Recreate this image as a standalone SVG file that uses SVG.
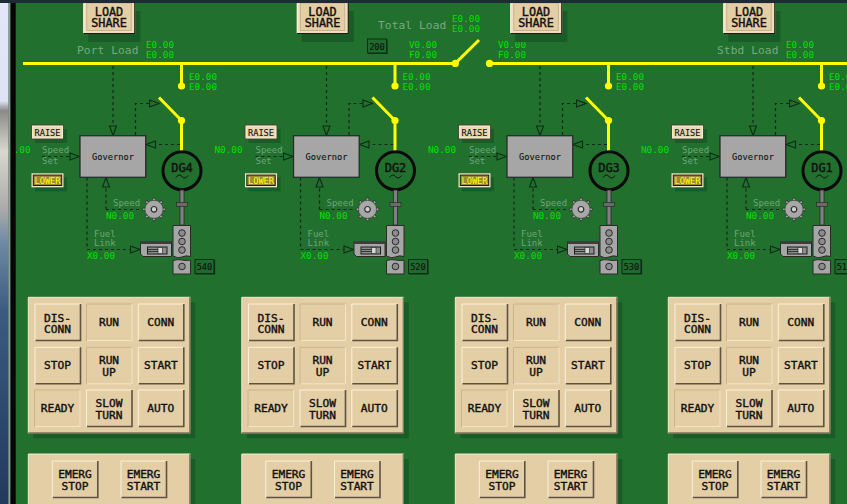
<svg xmlns="http://www.w3.org/2000/svg" width="847" height="504" viewBox="0 0 847 504">
<style>
text{font-family:"DejaVu Sans Mono","Liberation Mono",monospace}
.v{font-size:9.3px;fill:#00e000}
.l{font-size:9px;fill:#6fa57c}
.h{font-size:11.2px;fill:#7aa886;letter-spacing:.1px}
.b{font-size:11.2px;fill:#111;stroke:#111;stroke-width:.4;text-anchor:middle}
.ls{font-size:11.8px}
.s{font-size:8.7px;fill:#111;stroke:#111;stroke-width:.1;text-anchor:middle}
.d{font-size:12px;fill:#111;stroke:#111;stroke-width:.4;text-anchor:middle}
.sig{fill:none;stroke:#0f2a17;stroke-width:1.2;stroke-dasharray:3 3}
.sigf{marker-end:url(#tri)}
.bus{fill:none;stroke:#ff0;stroke-width:3}
.dot{fill:#ff0}
.pan{fill:#e4cea6}
.sh{fill:#1a5c27}
.mt{fill:#a6a6a6;stroke:#2a2a2a;stroke-width:1}
.hole{fill:#8c8c8c;stroke:#2a2a2a;stroke-width:1}
</style>
<defs>
<marker id="tri" markerUnits="userSpaceOnUse" markerWidth="12" markerHeight="10" refX="0.5" refY="4.5" orient="auto">
<path d="M1 1L10.5 4.5L1 8Z" fill="none" stroke="#0f2a17" stroke-width="1.1"/>
</marker>
<linearGradient id="strip" x1="0" y1="0" x2="0" y2="1">
<stop offset="0" stop-color="#e4e7fa"/><stop offset=".2" stop-color="#dfe2f5"/><stop offset=".22" stop-color="#8a8a88"/><stop offset=".3" stop-color="#d8d8d0"/><stop offset=".42" stop-color="#a8a8a8"/><stop offset=".48" stop-color="#6f8aa5"/><stop offset=".62" stop-color="#3a5a80"/><stop offset="1" stop-color="#223a5c"/>
</linearGradient>
<g id="btn">
<rect width="46" height="37" class="pan"/>
<path d="M0 37V0H46" fill="none" stroke="#fbf1d8" stroke-width="1"/>
<path d="M0.5 36.5H45.5V0" fill="none" stroke="#5e5240" stroke-width="1.6"/>
</g>
<g id="btnin">
<rect width="46" height="37" class="pan"/>
<path d="M0 37V0H46" fill="none" stroke="#c9b48c" stroke-width="1"/>
<path d="M0.5 36.5H45.5V0" fill="none" stroke="#f3e4c3" stroke-width="1"/>
</g>
<g id="conn">
<path class="sig sigf" d="M113 66V125.5"/>
<path class="sig sigf" d="M135.5 135V103.5H149"/>
<path class="sig sigf" d="M180 144.5H156"/>
<path class="sig sigf" d="M42 156.5H69.5"/>
<path class="sig sigf" d="M106 209.5V187.5"/>
<path class="sig" d="M106 209.5H143"/>
<path class="sig sigf" d="M87 177.5V249.5H130"/>
<path class="bus" d="M181.5 63V86"/>
<path class="bus" d="M159 97.5L181.5 120.5V151"/>
<circle class="dot" cx="181.5" cy="86" r="3.6"/>
<circle class="dot" cx="181.5" cy="120.5" r="3.6"/>
</g>
<g id="gear">
<g fill="#a6a6a6" stroke="#2a2a2a" stroke-width=".8">
<circle cx="0" cy="-10" r="1.5"/><circle cx="7.1" cy="-7.1" r="1.5"/><circle cx="10" cy="0" r="1.5"/><circle cx="7.1" cy="7.1" r="1.5"/><circle cx="0" cy="10" r="1.5"/><circle cx="-7.1" cy="7.1" r="1.5"/><circle cx="-10" cy="0" r="1.5"/><circle cx="-7.1" cy="-7.1" r="1.5"/>
</g>
<circle r="9" fill="#a8a8a8" stroke="#3a3a3a" stroke-width=".5"/>
<circle r="2.8" fill="#d0d0d0" stroke="#2a2a2a" stroke-width="1.2"/>
</g>
<g id="mech">
<rect x="180" y="190" width="4" height="35" fill="#808080" stroke="#2a2a2a" stroke-width=".8"/>
<rect x="176.5" y="202.5" width="11" height="4" fill="#6a6a6a" stroke="#2a2a2a" stroke-width=".7"/>
<path class="mt" d="M173 225.5H190.5V256.5Q186 255 182 257T173 256Z"/>
<circle class="hole" cx="182" cy="233" r="3.3"/>
<circle class="hole" cx="182" cy="241.5" r="3.3"/>
<circle class="hole" cx="182" cy="250" r="3.3"/>
<path class="mt" d="M173 260.5Q178 259 182 260T190.5 260V274H173Z"/>
<circle class="hole" cx="182" cy="266.5" r="3.3"/>
<path d="M140.5 241.5H171.5V256.5H143L140.5 254Z" fill="#a6a6a6" stroke="#2a2a2a" stroke-width="1"/>
<rect x="140.5" y="241" width="31" height="3" fill="#3d3d3d"/>
<rect x="147.5" y="247" width="19.5" height="7" fill="#8c8c8c" stroke="#1f1f1f" stroke-width="1"/>
<rect x="158" y="247.5" width="4.5" height="6" fill="#d8d8d8" stroke="#1f1f1f" stroke-width=".6"/>
<path d="M148 249.5H158M148 251.5H158" stroke="#1f1f1f" stroke-width=".8"/>
</g>
<g id="share">
<rect x="5" y="8" width="52" height="31" class="sh"/>
<rect width="52" height="31" fill="#f0dfbd"/>
<path d="M0.5 31V0.5" stroke="#fff5de" fill="none"/>
<path d="M0 30.5H51.5V0" stroke="#1f1a10" fill="none" stroke-width="1.2"/>
<rect x="3.5" y="0" width="44.5" height="27.5" class="pan" stroke="#bda985" stroke-width=".8"/>
</g>
<g id="small">
<rect x="3.5" y="4" width="32" height="14" class="sh"/>
<rect width="32" height="14" fill="#f2e6c8" stroke="#4a4030" stroke-width=".9"/>
<rect x="2" y="2" width="28" height="10" fill="#e8d8b4"/>
</g>
<g id="smalll">
<rect x="3.5" y="4" width="32" height="14" class="sh"/>
<rect width="32" height="14" fill="#f2e6c8"/>
<rect x="1.8" y="1.8" width="28.4" height="10.4" fill="#9c8a3a" stroke="#1f1a10" stroke-width="1"/>
</g>
<g id="readout">
<rect width="19" height="14" fill="#1f6a2c" stroke="#0f2c16" stroke-width="1"/>
<path d="M.5 14.5H19.5V.5" fill="none" stroke="#0f2c16" stroke-width="1.2"/>
</g>
<g id="pane1">
<rect x="5" y="5" width="162" height="136" class="sh"/>
<rect width="162" height="136" class="pan"/>
<path d="M0 136V0H162" fill="none" stroke="#f6ead0"/>
<path d="M0 135.5H161.5V0" fill="none" stroke="#7f7055" stroke-width="1.2"/>
</g>
<g id="pane2">
<rect x="5" y="5" width="162" height="50" class="sh"/>
<rect width="162" height="50" class="pan"/>
<path d="M0 50V0H162" fill="none" stroke="#f6ead0"/>
<path d="M161.5 0V50" fill="none" stroke="#7f7055" stroke-width="1.2"/>
</g>
</defs>

<rect width="847" height="504" fill="#21702d"/>

<g id="connectors">
<path class="bus" d="M23 63.4H455M489.5 63.4H847"/>
<path class="bus" d="M455.3 63.4L479 40"/>
<circle class="dot" cx="455.3" cy="63.4" r="3.6"/>
<circle class="dot" cx="489.5" cy="63.4" r="3.6"/>
<use href="#conn"/>
<use href="#conn" x="213.5"/>
<use href="#conn" x="427"/>
<use href="#conn" x="640"/>
</g>

<g id="bus-labels">
<text class="h" x="77" y="54">Port Load</text>
<text class="v" x="146" y="48">E0.00</text><text class="v" x="146" y="58">E0.00</text>
<text class="h" x="378" y="29">Total Load</text>
<text class="v" x="452" y="22">E0.00</text><text class="v" x="452" y="32">E0.00</text>
<text class="v" x="409" y="48">V0.00</text><text class="v" x="409" y="58">F0.00</text>
<text class="v" x="498" y="48">V0.00</text><text class="v" x="498" y="58">F0.00</text>
<text class="h" x="717" y="54">Stbd Load</text>
<text class="v" x="786" y="48">E0.00</text><text class="v" x="786" y="58">E0.00</text>
<g id="total-load-box"><use href="#readout" x="367.5" y="39"/><text class="s" x="377" y="49.5">200</text></g>
</g>

<g id="unit-dg4">
<g id="share-dg4"><use href="#share" x="83.3" y="3"/><text class="b ls" x="109" y="15.6">LOAD</text><text class="b ls" x="109" y="26.8">SHARE</text></g>
<text class="v" x="189" y="80">E0.00</text><text class="v" x="189" y="90">E0.00</text>
<g id="raise-dg4"><use href="#small" x="31.5" y="125"/><text class="s" x="47.5" y="136">RAISE</text></g>
<g id="lower-dg4"><use href="#smalll" x="31.5" y="173.3"/><text class="s" x="47.5" y="184" style="fill:#ff0;stroke:none">LOWER</text></g>
<text class="v" x="2.5" y="152.7">N0.00</text>
<text class="l" x="42" y="152.7">Speed</text><text class="l" x="42" y="164.3">Set</text>
<g id="governor-dg4"><rect class="mt" x="80" y="135.7" width="65.7" height="41.6" style="stroke-width:1.3"/><text class="s" x="113" y="159.5">Governor</text></g>
<g id="gen-dg4"><circle cx="182" cy="170.7" r="19" fill="#21702d" stroke="#0a0a0a" stroke-width="3"/><text class="d" x="182" y="171.8">DG4</text><path d="M176 177.5Q179 173 182 176.5T188 175.5" fill="none" stroke="#111"/></g>
<use href="#mech"/>
<use href="#gear" x="154" y="209.3"/>
<text class="l" x="113" y="206">Speed</text><text class="v" x="106" y="219">N0.00</text>
<text class="l" x="94" y="237">Fuel</text><text class="l" x="94" y="246">Link</text><text class="v" x="87" y="259">X0.00</text>
<g id="rack-dg4"><use href="#readout" x="195" y="259.5"/><text class="s" x="204.5" y="270">540</text></g>
<g id="controls-dg4">
<use href="#pane1" x="28.3" y="297.3"/>
<use href="#btn" x="35" y="304"/><text class="b" x="57.5" y="321.7">DIS-</text><text class="b" x="57.5" y="333.3">CONN</text>
<use href="#btnin" x="86.5" y="304"/><text class="b" x="109" y="326">RUN</text>
<use href="#btn" x="138.3" y="304"/><text class="b" x="160.8" y="326">CONN</text>
<use href="#btn" x="35" y="347.3"/><text class="b" x="57.5" y="369.3">STOP</text>
<use href="#btnin" x="86.5" y="347.3"/><text class="b" x="109" y="364">RUN</text><text class="b" x="109" y="376">UP</text>
<use href="#btn" x="138.3" y="347.3"/><text class="b" x="160.8" y="369.3">START</text>
<use href="#btnin" x="34.5" y="390"/><text class="b" x="57.5" y="412.3">READY</text>
<use href="#btn" x="86.5" y="390"/><text class="b" x="109" y="407.3">SLOW</text><text class="b" x="109" y="419.3">TURN</text>
<use href="#btn" x="138.3" y="390"/><text class="b" x="160.8" y="412.3">AUTO</text>
</g>
<g id="emerg-dg4">
<use href="#pane2" x="28.3" y="454"/>
<use href="#btn" x="52.3" y="461"/><text class="b" x="75" y="478">EMERG</text><text class="b" x="75" y="490">STOP</text>
<use href="#btn" x="121" y="461"/><text class="b" x="143.5" y="478">EMERG</text><text class="b" x="143.5" y="490">START</text>
</g>
</g>

<g id="unit-dg2" transform="translate(213.5)">
<g id="share-dg2"><use href="#share" x="83.3" y="3"/><text class="b ls" x="109" y="15.6">LOAD</text><text class="b ls" x="109" y="26.8">SHARE</text></g>
<text class="v" x="189" y="80">E0.00</text><text class="v" x="189" y="90">E0.00</text>
<g id="raise-dg2"><use href="#small" x="31.5" y="125"/><text class="s" x="47.5" y="136">RAISE</text></g>
<g id="lower-dg2"><use href="#smalll" x="31.5" y="173.3"/><text class="s" x="47.5" y="184" style="fill:#ff0;stroke:none">LOWER</text></g>
<text class="v" x="1" y="152.7">N0.00</text>
<text class="l" x="42" y="152.7">Speed</text><text class="l" x="42" y="164.3">Set</text>
<g id="governor-dg2"><rect class="mt" x="80" y="135.7" width="65.7" height="41.6" style="stroke-width:1.3"/><text class="s" x="113" y="159.5">Governor</text></g>
<g id="gen-dg2"><circle cx="182" cy="170.7" r="19" fill="#21702d" stroke="#0a0a0a" stroke-width="3"/><text class="d" x="182" y="171.8">DG2</text><path d="M176 177.5Q179 173 182 176.5T188 175.5" fill="none" stroke="#111"/></g>
<use href="#mech"/>
<use href="#gear" x="154" y="209.3"/>
<text class="l" x="113" y="206">Speed</text><text class="v" x="106" y="219">N0.00</text>
<text class="l" x="94" y="237">Fuel</text><text class="l" x="94" y="246">Link</text><text class="v" x="87" y="259">X0.00</text>
<g id="rack-dg2"><use href="#readout" x="195" y="259.5"/><text class="s" x="204.5" y="270">520</text></g>
<g id="controls-dg2">
<use href="#pane1" x="28.3" y="297.3"/>
<use href="#btn" x="35" y="304"/><text class="b" x="57.5" y="321.7">DIS-</text><text class="b" x="57.5" y="333.3">CONN</text>
<use href="#btnin" x="86.5" y="304"/><text class="b" x="109" y="326">RUN</text>
<use href="#btn" x="138.3" y="304"/><text class="b" x="160.8" y="326">CONN</text>
<use href="#btn" x="35" y="347.3"/><text class="b" x="57.5" y="369.3">STOP</text>
<use href="#btnin" x="86.5" y="347.3"/><text class="b" x="109" y="364">RUN</text><text class="b" x="109" y="376">UP</text>
<use href="#btn" x="138.3" y="347.3"/><text class="b" x="160.8" y="369.3">START</text>
<use href="#btnin" x="34.5" y="390"/><text class="b" x="57.5" y="412.3">READY</text>
<use href="#btn" x="86.5" y="390"/><text class="b" x="109" y="407.3">SLOW</text><text class="b" x="109" y="419.3">TURN</text>
<use href="#btn" x="138.3" y="390"/><text class="b" x="160.8" y="412.3">AUTO</text>
</g>
<g id="emerg-dg2">
<use href="#pane2" x="28.3" y="454"/>
<use href="#btn" x="52.3" y="461"/><text class="b" x="75" y="478">EMERG</text><text class="b" x="75" y="490">STOP</text>
<use href="#btn" x="121" y="461"/><text class="b" x="143.5" y="478">EMERG</text><text class="b" x="143.5" y="490">START</text>
</g>
</g>

<g id="unit-dg3" transform="translate(427)">
<g id="share-dg3"><use href="#share" x="83.3" y="3"/><text class="b ls" x="109" y="15.6">LOAD</text><text class="b ls" x="109" y="26.8">SHARE</text></g>
<text class="v" x="189" y="80">E0.00</text><text class="v" x="189" y="90">E0.00</text>
<g id="raise-dg3"><use href="#small" x="31.5" y="125"/><text class="s" x="47.5" y="136">RAISE</text></g>
<g id="lower-dg3"><use href="#smalll" x="31.5" y="173.3"/><text class="s" x="47.5" y="184" style="fill:#ff0;stroke:none">LOWER</text></g>
<text class="v" x="1" y="152.7">N0.00</text>
<text class="l" x="42" y="152.7">Speed</text><text class="l" x="42" y="164.3">Set</text>
<g id="governor-dg3"><rect class="mt" x="80" y="135.7" width="65.7" height="41.6" style="stroke-width:1.3"/><text class="s" x="113" y="159.5">Governor</text></g>
<g id="gen-dg3"><circle cx="182" cy="170.7" r="19" fill="#21702d" stroke="#0a0a0a" stroke-width="3"/><text class="d" x="182" y="171.8">DG3</text><path d="M176 177.5Q179 173 182 176.5T188 175.5" fill="none" stroke="#111"/></g>
<use href="#mech"/>
<use href="#gear" x="154" y="209.3"/>
<text class="l" x="113" y="206">Speed</text><text class="v" x="106" y="219">N0.00</text>
<text class="l" x="94" y="237">Fuel</text><text class="l" x="94" y="246">Link</text><text class="v" x="87" y="259">X0.00</text>
<g id="rack-dg3"><use href="#readout" x="195" y="259.5"/><text class="s" x="204.5" y="270">530</text></g>
<g id="controls-dg3">
<use href="#pane1" x="28.3" y="297.3"/>
<use href="#btn" x="35" y="304"/><text class="b" x="57.5" y="321.7">DIS-</text><text class="b" x="57.5" y="333.3">CONN</text>
<use href="#btnin" x="86.5" y="304"/><text class="b" x="109" y="326">RUN</text>
<use href="#btn" x="138.3" y="304"/><text class="b" x="160.8" y="326">CONN</text>
<use href="#btn" x="35" y="347.3"/><text class="b" x="57.5" y="369.3">STOP</text>
<use href="#btnin" x="86.5" y="347.3"/><text class="b" x="109" y="364">RUN</text><text class="b" x="109" y="376">UP</text>
<use href="#btn" x="138.3" y="347.3"/><text class="b" x="160.8" y="369.3">START</text>
<use href="#btnin" x="34.5" y="390"/><text class="b" x="57.5" y="412.3">READY</text>
<use href="#btn" x="86.5" y="390"/><text class="b" x="109" y="407.3">SLOW</text><text class="b" x="109" y="419.3">TURN</text>
<use href="#btn" x="138.3" y="390"/><text class="b" x="160.8" y="412.3">AUTO</text>
</g>
<g id="emerg-dg3">
<use href="#pane2" x="28.3" y="454"/>
<use href="#btn" x="52.3" y="461"/><text class="b" x="75" y="478">EMERG</text><text class="b" x="75" y="490">STOP</text>
<use href="#btn" x="121" y="461"/><text class="b" x="143.5" y="478">EMERG</text><text class="b" x="143.5" y="490">START</text>
</g>
</g>

<g id="unit-dg1" transform="translate(640)">
<g id="share-dg1"><use href="#share" x="83.3" y="3"/><text class="b ls" x="109" y="15.6">LOAD</text><text class="b ls" x="109" y="26.8">SHARE</text></g>
<text class="v" x="189" y="80">E0.00</text><text class="v" x="189" y="90">E0.00</text>
<g id="raise-dg1"><use href="#small" x="31.5" y="125"/><text class="s" x="47.5" y="136">RAISE</text></g>
<g id="lower-dg1"><use href="#smalll" x="31.5" y="173.3"/><text class="s" x="47.5" y="184" style="fill:#ff0;stroke:none">LOWER</text></g>
<text class="v" x="1" y="152.7">N0.00</text>
<text class="l" x="42" y="152.7">Speed</text><text class="l" x="42" y="164.3">Set</text>
<g id="governor-dg1"><rect class="mt" x="80" y="135.7" width="65.7" height="41.6" style="stroke-width:1.3"/><text class="s" x="113" y="159.5">Governor</text></g>
<g id="gen-dg1"><circle cx="182" cy="170.7" r="19" fill="#21702d" stroke="#0a0a0a" stroke-width="3"/><text class="d" x="182" y="171.8">DG1</text><path d="M176 177.5Q179 173 182 176.5T188 175.5" fill="none" stroke="#111"/></g>
<use href="#mech"/>
<use href="#gear" x="154" y="209.3"/>
<text class="l" x="113" y="206">Speed</text><text class="v" x="106" y="219">N0.00</text>
<text class="l" x="94" y="237">Fuel</text><text class="l" x="94" y="246">Link</text><text class="v" x="87" y="259">X0.00</text>
<g id="rack-dg1"><use href="#readout" x="195" y="259.5"/><text class="s" x="204.5" y="270">510</text></g>
<g id="controls-dg1">
<use href="#pane1" x="28.3" y="297.3"/>
<use href="#btn" x="35" y="304"/><text class="b" x="57.5" y="321.7">DIS-</text><text class="b" x="57.5" y="333.3">CONN</text>
<use href="#btnin" x="86.5" y="304"/><text class="b" x="109" y="326">RUN</text>
<use href="#btn" x="138.3" y="304"/><text class="b" x="160.8" y="326">CONN</text>
<use href="#btn" x="35" y="347.3"/><text class="b" x="57.5" y="369.3">STOP</text>
<use href="#btnin" x="86.5" y="347.3"/><text class="b" x="109" y="364">RUN</text><text class="b" x="109" y="376">UP</text>
<use href="#btn" x="138.3" y="347.3"/><text class="b" x="160.8" y="369.3">START</text>
<use href="#btnin" x="34.5" y="390"/><text class="b" x="57.5" y="412.3">READY</text>
<use href="#btn" x="86.5" y="390"/><text class="b" x="109" y="407.3">SLOW</text><text class="b" x="109" y="419.3">TURN</text>
<use href="#btn" x="138.3" y="390"/><text class="b" x="160.8" y="412.3">AUTO</text>
</g>
<g id="emerg-dg1">
<use href="#pane2" x="28.3" y="454"/>
<use href="#btn" x="52.3" y="461"/><text class="b" x="75" y="478">EMERG</text><text class="b" x="75" y="490">STOP</text>
<use href="#btn" x="121" y="461"/><text class="b" x="143.5" y="478">EMERG</text><text class="b" x="143.5" y="490">START</text>
</g>
</g>

<g id="window-frame">
<rect x="0" y="0" width="8.5" height="504" fill="url(#strip)"/>
<rect x="8.5" y="0" width="2" height="504" fill="#9a9aa0"/>
<rect x="10.5" y="0" width="5.2" height="504" fill="#050505"/>
<rect x="0" y="0" width="847" height="3" fill="#1c2b36"/>
</g>
</svg>
